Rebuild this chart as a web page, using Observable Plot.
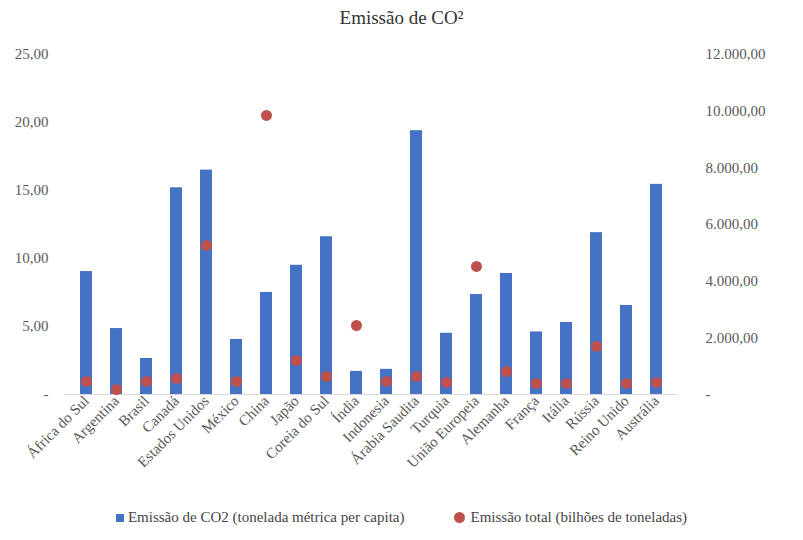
<!DOCTYPE html>
<html><head><meta charset="utf-8">
<script src="https://cdn.jsdelivr.net/npm/d3@7"></script>
<script src="https://cdn.jsdelivr.net/npm/@observablehq/plot@0.6"></script>
<style>
body{margin:0;background:#fff;font-family:"Liberation Serif",serif;}
#title{height:40px;line-height:36px;text-align:center;font-size:19px;color:#333;}
#legend{display:flex;justify-content:center;gap:50px;font-size:15px;color:#444;margin-top:9px;font-family:"Liberation Serif",serif;}
.sw{display:inline-block;width:8px;height:8px;background:#4472C4;margin-right:4px;}
.dt{display:inline-block;width:11px;height:11px;border-radius:50%;background:#C0504D;margin-right:5px;vertical-align:-1px;}
</style></head><body>
<div id="title">Emissão de CO²</div>
<div id="chart"></div>
<div id="legend"><span><span class="sw"></span>Emissão de CO2 (tonelada métrica per capita)</span><span><span class="dt"></span>Emissão total (bilhões de toneladas)</span></div>
<script>
const countries=["África do Sul","Argentina","Brasil","Canadá","Estados Unidos","México","China","Japão","Coreia do Sul","Índia","Indonesia","Árabia Saudita","Turquia","União Europeia","Alemanha","França","Itália","Rússia","Reino Unido","Austrália"];
const perCapita=[9.04,4.85,2.65,15.2,16.5,4.05,7.5,9.5,11.6,1.7,1.85,19.4,4.5,7.35,8.9,4.6,5.3,11.9,6.55,15.45];
const total=[460,175,460,565,5260,460,9850,1200,635,2435,460,635,425,4520,810,390,390,1695,390,425];
const data=countries.map((c,i)=>({c,p:perCapita[i],t:total[i]}));
const k=25/12000;
const fmt=d3.formatLocale({decimal:",",thousands:".",grouping:[3]}).format(",.2f");
const f=v=>v===0?"-":fmt(v);
const chart=Plot.plot({
  width:803,height:460,marginTop:14,marginBottom:106,marginLeft:65,marginRight:126,
  style:{fontFamily:"Liberation Serif, serif",fontSize:"15px",color:"#595959"},
  x:{domain:countries,paddingInner:0.6,paddingOuter:0.3},
  y:{domain:[0,25]},
  marks:[
    Plot.barY(data,{x:"c",y:"p",fill:"#4472C4"}),
    Plot.ruleY([0],{stroke:"#d9d9d9"}),
    Plot.dot(data,{x:"c",y:d=>d.t*k,r:5.5,fill:"#C0504D"}),
    Plot.axisX({tickSize:0,tickRotate:-45,label:null,fontSize:15,tickPadding:4}),
    Plot.axisY({ticks:d3.range(0,26,5),tickFormat:f,tickSize:0,label:null,tickPadding:17}),
    Plot.axisY({anchor:"right",ticks:d3.range(0,12001,2000).map(v=>v*k),tickFormat:v=>f(Math.round(v/k)),tickSize:0,label:null,tickPadding:28})
  ]
});
document.getElementById("chart").append(chart);
</script></body></html>
